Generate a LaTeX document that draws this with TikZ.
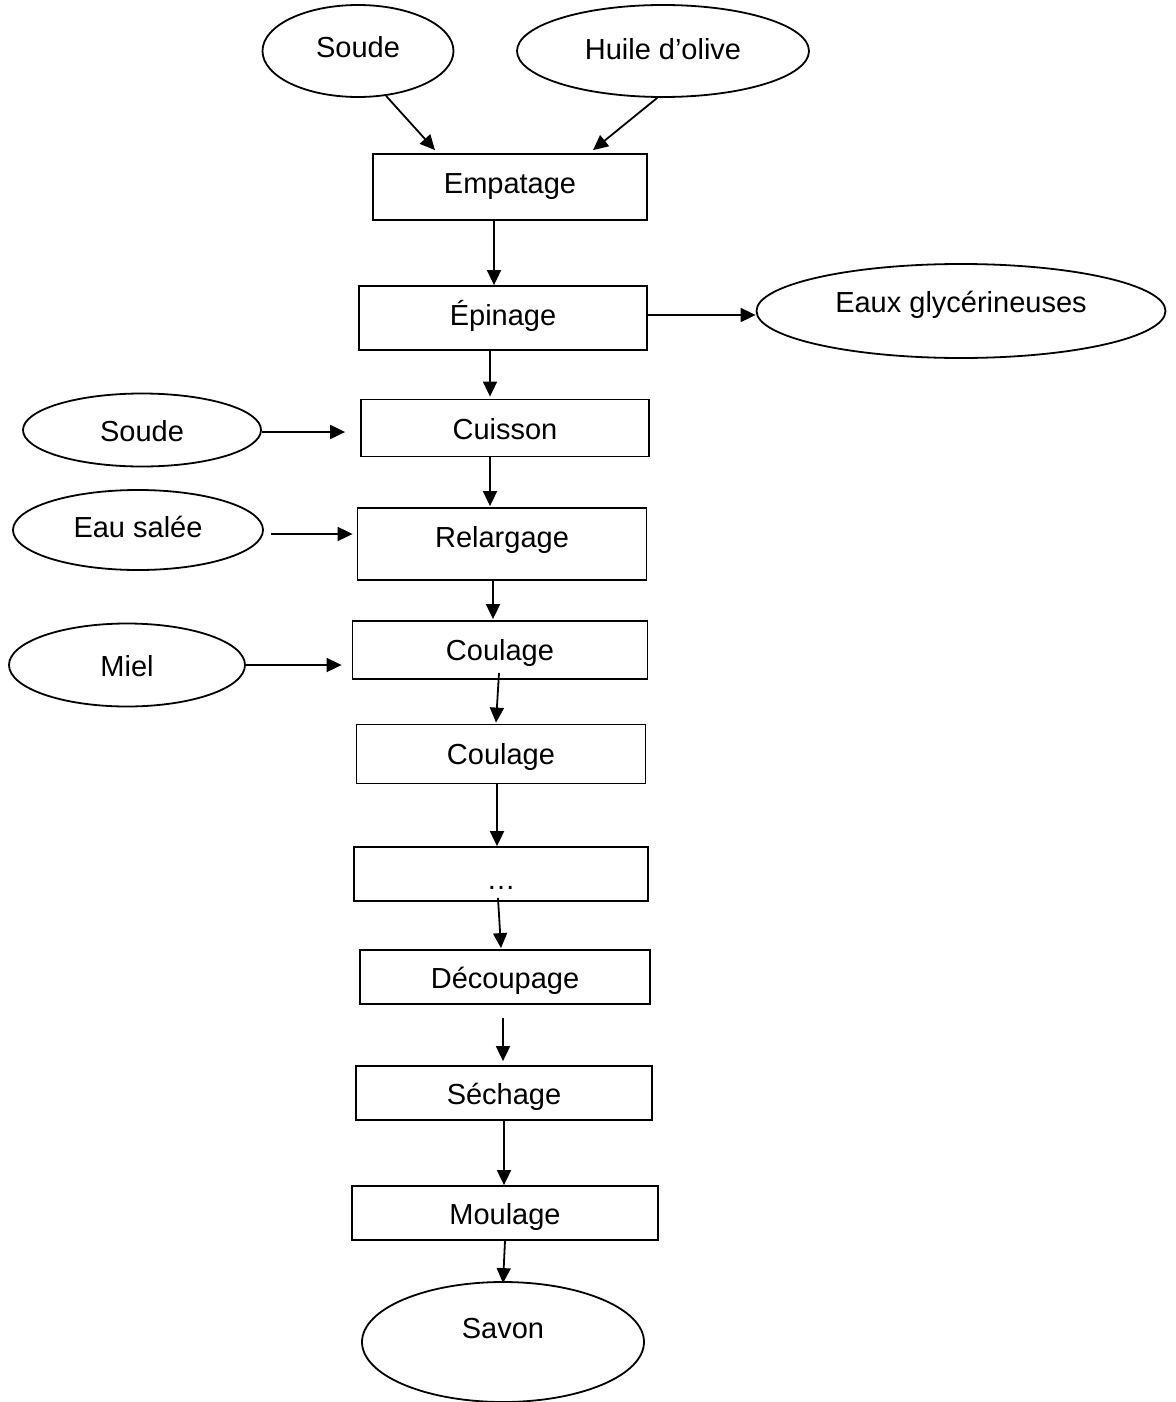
\documentclass[tikz,border=0pt]{standalone}
\usepackage{fontspec}
\setmainfont{Liberation Sans}
\usetikzlibrary{arrows.meta, shapes.geometric}

\tikzset{
    etape/.style={draw, line width=0.9pt, inner sep=0pt, font=\fontsize{14.5}{17}\selectfont, execute at begin node={\rule[-3pt]{0pt}{17pt}}},
    produit/.style={etape, ellipse},
    flow/.style={line width=0.9pt, -{Triangle[length=7.5pt,width=7pt]}}
}

\begin{document}
\begin{tikzpicture}[x=0.5pt, y=-0.5pt]
        \useasboundingbox (0,0) rectangle (1176,1402);
        % entrees
        \node[produit, minimum width=95.5pt, minimum height=46pt] (st) at (358,51) {\raisebox{2pt}{Soude}};
        \node[produit, minimum width=146pt, minimum height=46pt] (hu) at (663,51) {\raisebox{1.5pt}{Huile d’olive}};
        \node[produit, minimum width=204.5pt, minimum height=47pt] (eaux) at (961,311) {\raisebox{6.5pt}{Eaux glycérineuses}};
        \node[produit, minimum width=119pt, minimum height=36.5pt] (sg) at (142,430) {Soude};
        \node[produit, minimum width=125pt, minimum height=40pt] (es) at (138,530) {\raisebox{2pt}{Eau salée}};
        \node[produit, minimum width=118pt, minimum height=41.5pt] (mi) at (127,665) {Miel};
        \node[produit, minimum width=141pt, minimum height=60pt] (sav) at (503,1342) {\raisebox{11pt}{Savon}};
        % etapes
        \node[etape, minimum width=137pt, minimum height=33pt] (emp) at (510,187) {\raisebox{2pt}{Empatage}};
        \node[etape, minimum width=144pt, minimum height=32pt] (epi) at (503,318) {\raisebox{2pt}{Épinage}};
        \node[etape, minimum width=144pt, minimum height=28.5pt] (cui) at (505,428) {Cuisson};
        \node[etape, minimum width=144.5pt, minimum height=36pt] (rel) at (502,544) {\raisebox{4.5pt}{Relargage}};
        \node[etape, minimum width=147.5pt, minimum height=29pt] (cou) at (500,650) {Coulage};
        \node[etape, minimum width=144.5pt, minimum height=29.5pt] (cou2) at (501,754) {Coulage};
        \node[etape, minimum width=147pt, minimum height=27pt] (pts) at (501,874) {\raisebox{-2pt}{\dots}};
        \node[etape, minimum width=145pt, minimum height=27pt] (dec) at (505,977) {Découpage};
        \node[etape, minimum width=148pt, minimum height=27pt] (sec) at (504,1093) {Séchage};
        \node[etape, minimum width=153pt, minimum height=27pt] (mou) at (505,1213) {Moulage};
        % fleches
        \draw[flow] (st.-58) -- ([xshift=-37.5pt, yshift=1.5pt]emp.north);
        \draw[flow] (hu.-97) -- ([xshift=41.5pt, yshift=1.5pt]emp.north);
        \draw[flow] ([xshift=-8pt]emp.south) -- ([xshift=-4.5pt]epi.north);
        \draw[flow] ([yshift=1.5pt]epi.east) -- ([yshift=1.5pt]epi.east -| eaux.west);
        \draw[flow] ([xshift=-6.5pt]epi.south) -- ([xshift=-7.5pt, yshift=1pt]cui.north);
        \draw[flow, shorten >=7.5pt] ([yshift=-1pt]sg.east) -- ([yshift=-1pt]sg.east -| cui.west);
        \draw[flow] ([xshift=-7.5pt]cui.south) -- ([xshift=-6pt, yshift=0.5pt]rel.north);
        \draw[flow, shorten <=3.5pt, shorten >=2pt] ([yshift=-2pt]es.east) -- ([yshift=-2pt]es.east -| rel.west);
        \draw[flow] ([xshift=-4.5pt]rel.south) -- ([xshift=-3.5pt, yshift=0.5pt]cou.north);
        \draw[flow, shorten >=5pt] (mi.east) -- (mi.east -| cou.west);
        \draw[flow] ([xshift=-0.5pt, yshift=3.5pt]cou.south) -- ([xshift=-2.5pt, yshift=0.5pt]cou2.north);
        \draw[flow] ([xshift=-2pt]cou2.south) -- ([xshift=-2pt]pts.north);
        \draw[flow] ([xshift=-1.5pt, yshift=2pt]pts.south) -- ([xshift=-2pt, yshift=0.5pt]dec.north);
        \draw[flow, shorten <=6.5pt, shorten >=2pt] ([xshift=-1pt]dec.south) -- ([xshift=-0.5pt]sec.north);
        \draw[flow] (sec.south) -- ([xshift=-0.5pt]mou.north);
        \draw[flow] (mou.south) -- ([yshift=-1pt]sav.north);
    \end{tikzpicture}
\end{document}
